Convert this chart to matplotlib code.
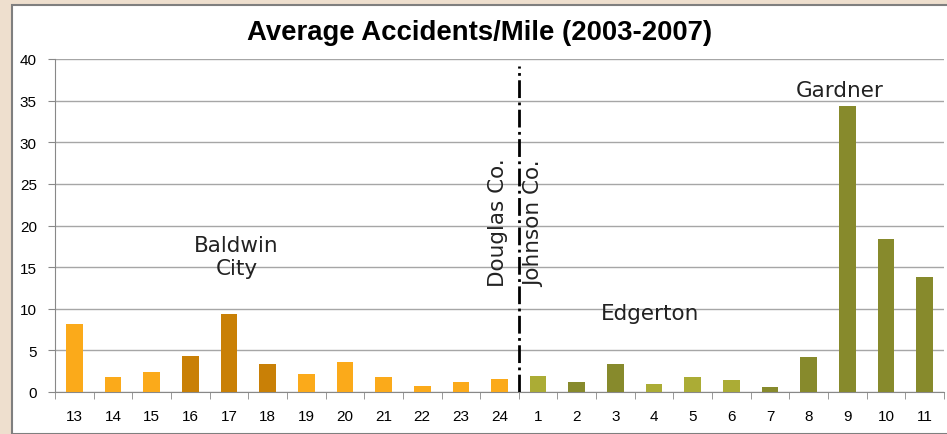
import matplotlib.pyplot as plt
from matplotlib.patches import Rectangle

# mile markers, west (Douglas Co.) to east (Johnson Co.)
mile_labels = ["13", "14", "15", "16", "17", "18", "19", "20", "21", "22", "23", "24",
               "1", "2", "3", "4", "5", "6", "7", "8", "9", "10", "11"]
accidents = [8.2, 1.8, 2.4, 4.3, 9.4, 3.4, 2.2, 3.6, 1.8, 0.7, 1.2, 1.6,
             1.9, 1.2, 3.4, 1.0, 1.8, 1.5, 0.6, 4.2, 34.3, 18.4, 13.8]
# colour group of each bar
groups = ["lo", "lo", "lo", "do", "do", "do", "lo", "lo", "lo", "lo", "lo", "lo",
          "lg", "dg", "dg", "lg", "lg", "lg", "dg", "dg", "dg", "dg", "dg"]
palette = {"lo": "#FBAA1A", "do": "#C98006", "lg": "#ABAC35", "dg": "#878A2C"}

fig = plt.figure(figsize=(9.47, 4.35), dpi=100)
fig.patch.set_facecolor("#EEDFCE")

# white chart panel with grey frame
panel = Rectangle((12 / 947, 0), 1, 1 - 6 / 435, transform=fig.transFigure,
                  facecolor="white", edgecolor="#7F7F7F", linewidth=1.5, zorder=-10)
fig.patches.append(panel)

ax = fig.add_axes([55 / 947, 1 - 393 / 435, 889 / 947, 333 / 435])
ax.set_facecolor("white")

x = list(range(len(mile_labels)))
ax.bar(x, accidents, width=0.43, color=[palette[g] for g in groups], zorder=3)

ax.set_xlim(-0.5, len(mile_labels) - 0.5)
ax.set_ylim(0, 40)
ax.set_yticks(range(0, 41, 5))
ax.yaxis.grid(True, color="#A6A6A6", linewidth=1, zorder=0)
ax.set_axisbelow(True)

ax.set_xticks(x)
ax.set_xticklabels(mile_labels, fontsize=11, family="Liberation Sans")
ax.set_xticks([i + 0.5 for i in range(-1, len(mile_labels))], minor=True)
ax.tick_params(axis="x", which="major", length=0, pad=12)
ax.tick_params(axis="x", which="minor", length=5, color="#888888")
ax.tick_params(axis="y", length=5, color="#888888", labelsize=11, pad=8)
for lab in ax.get_yticklabels():
    lab.set_family("Liberation Sans")

for side in ["top", "right"]:
    ax.spines[side].set_visible(False)
for side in ["left", "bottom"]:
    ax.spines[side].set_color("#888888")

# title is centred on the white panel, not the plot area
fig.text(480 / 947, 1 - 40 / 435, "Average Accidents/Mile (2003-2007)", fontsize=19.8,
         fontweight="bold", family="Liberation Sans", ha="center", va="baseline")

# county line
ax.plot([11.5, 11.5], [0, 39.2], color="black", linestyle="-.", linewidth=2, zorder=4)

ann = dict(fontsize=15.5, color="#222222", family="DejaVu Sans", ha="center")
ax.text(4.2, 14.2, "Baldwin\nCity", va="baseline", linespacing=1.2, **ann)
ax.text(14.9, 8.8, "Edgerton", va="baseline", **ann)
ax.text(19.8, 35.5, "Gardner", va="baseline", **ann)
ax.text(10.95, 12.7, "Douglas Co.", rotation=90, va="bottom", **ann)
ax.text(11.9, 12.7, "Johnson Co.", rotation=90, va="bottom", **ann)

fig.savefig("out.png", dpi=100, facecolor=fig.get_facecolor())
